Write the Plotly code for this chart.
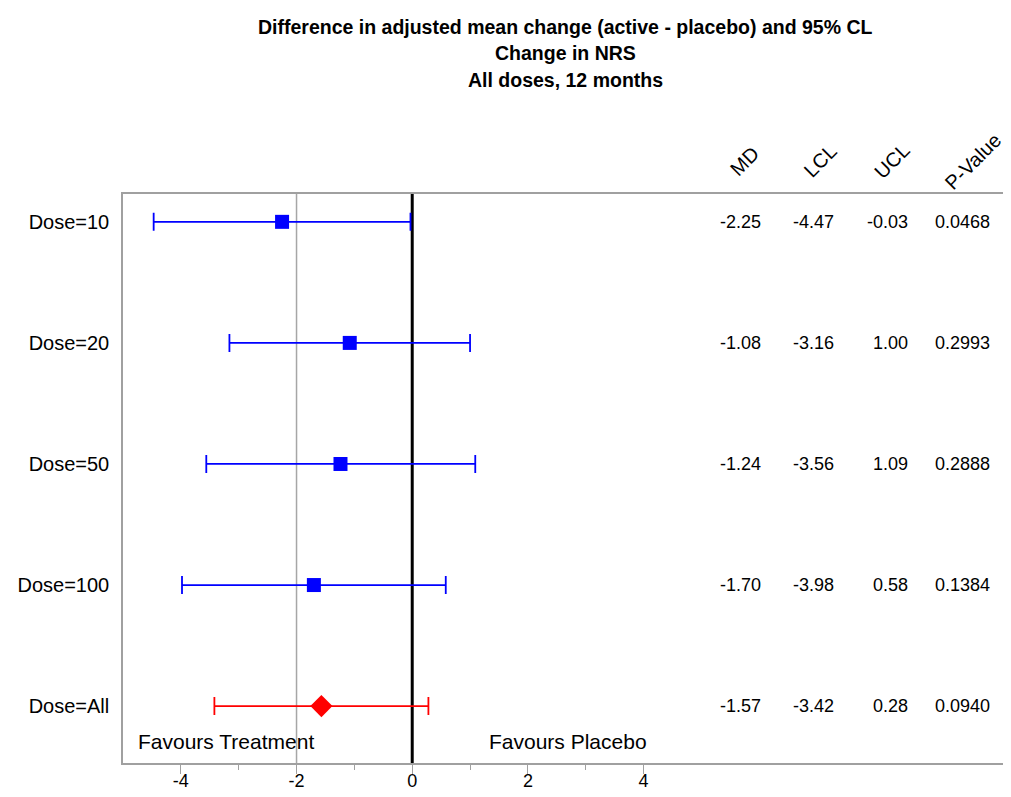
import plotly.graph_objects as go

doses = ["Dose=10", "Dose=20", "Dose=50", "Dose=100", "Dose=All"]
md = [-2.25, -1.08, -1.24, -1.70, -1.57]
lcl = [-4.47, -3.16, -3.56, -3.98, -3.42]
ucl = [-0.03, 1.00, 1.09, 0.58, 0.28]
pval = ["0.0468", "0.2993", "0.2888", "0.1384", "0.0940"]
headers = ["MD", "LCL", "UCL", "P-Value"]
title_lines = ["Difference in adjusted mean change (active - placebo) and 95% CL",
               "Change in NRS", "All doses, 12 months"]
xticks = [-4, -2, 0, 2, 4]
minor_ticks = [-3, -1, 1, 3]

FONT = "Liberation Sans, Arial, sans-serif"
fig = go.Figure()

# reference lines
fig.add_shape(type="line", x0=-2, x1=-2, y0=0, y1=1, yref="paper",
              line=dict(color="#a6a6a6", width=1.5), layer="below")
fig.add_shape(type="line", x0=0, x1=0, y0=0, y1=1, yref="paper",
              line=dict(color="black", width=3), layer="below")

fig.add_trace(go.Scatter(
    x=md[:4], y=doses[:4], mode="markers",
    marker=dict(symbol="square", size=14, color="#0000ff"),
    error_x=dict(type="data", symmetric=False,
                 array=[u - m for u, m in zip(ucl[:4], md[:4])],
                 arrayminus=[m - l for m, l in zip(md[:4], lcl[:4])],
                 color="#0000ff", thickness=1.8, width=9),
    showlegend=False, cliponaxis=False))
fig.add_trace(go.Scatter(
    x=md[4:], y=doses[4:], mode="markers",
    marker=dict(symbol="diamond", size=17, color="#ff0000"),
    error_x=dict(type="data", symmetric=False,
                 array=[u - m for u, m in zip(ucl[4:], md[4:])],
                 arrayminus=[m - l for m, l in zip(md[4:], lcl[4:])],
                 color="#ff0000", thickness=1.8, width=9),
    showlegend=False, cliponaxis=False))

ann = []
# title lines
for txt, yp in zip(title_lines, [1.2935, 1.2478, 1.2004]):
    ann.append(dict(text="<b>" + txt + "</b>", x=0.5, xref="paper", y=yp, yref="paper",
                    xanchor="center", yanchor="middle", showarrow=False,
                    font=dict(family=FONT, size=19.5, color="black")))
# column headers (rotated)
header_x = [5.75, 7.05, 8.29, 9.7]
for h, hx in zip(headers, header_x):
    ann.append(dict(text=h, x=hx, y=1.058, xref="x", yref="paper", textangle=-45,
                    xanchor="center", yanchor="middle", showarrow=False,
                    font=dict(family=FONT, size=20, color="black")))
# table values
col_x = [6.06, 7.32, 8.6, 10.02]
for i, d in enumerate(doses):
    vals = [f"{md[i]:.2f}", f"{lcl[i]:.2f}", f"{ucl[i]:.2f}", pval[i]]
    for v, cx in zip(vals, col_x):
        ann.append(dict(text=v, x=cx, y=d, xref="x", yref="y", xanchor="right",
                        yanchor="middle", showarrow=False,
                        font=dict(family=FONT, size=18, color="black")))
# favours labels
ann.append(dict(text="Favours Treatment", x=-4.77, y=4.29, xref="x", yref="y",
                xanchor="left", yanchor="middle", showarrow=False,
                font=dict(family=FONT, size=21, color="black")))
ann.append(dict(text="Favours Placebo", x=1.3, y=4.29, xref="x", yref="y",
                xanchor="left", yanchor="middle", showarrow=False,
                font=dict(family=FONT, size=21, color="black")))

fig.update_layout(
    width=1003, height=789,
    margin=dict(l=115, r=3, t=186, b=34),
    paper_bgcolor="white", plot_bgcolor="white",
    font=dict(family=FONT, color="black"),
    annotations=ann,
    xaxis=dict(range=[-5.0, 10.3], tickvals=xticks, ticktext=[str(t) for t in xticks],
               automargin=False,
               showgrid=False, zeroline=False, showline=True, mirror=True,
               linecolor="#a0a0a0", linewidth=1.5, ticks="outside", ticklen=9,
               tickcolor="#a0a0a0", tickwidth=1, tickfont=dict(size=18, family=FONT),
               ticklabelstandoff=-8,
               minor=dict(tickvals=minor_ticks, ticks="outside", ticklen=5,
                          tickcolor="#a0a0a0", showgrid=False)),
    yaxis=dict(type="category", categoryorder="array", categoryarray=doses,
               automargin=False,
               range=[4.47, -0.23], showgrid=False, zeroline=False, showline=True,
               mirror=True, linecolor="#a0a0a0", linewidth=1.5, ticks="",
               ticklabelstandoff=8, tickfont=dict(size=20, family=FONT)),
)

fig.write_html("out.html")
